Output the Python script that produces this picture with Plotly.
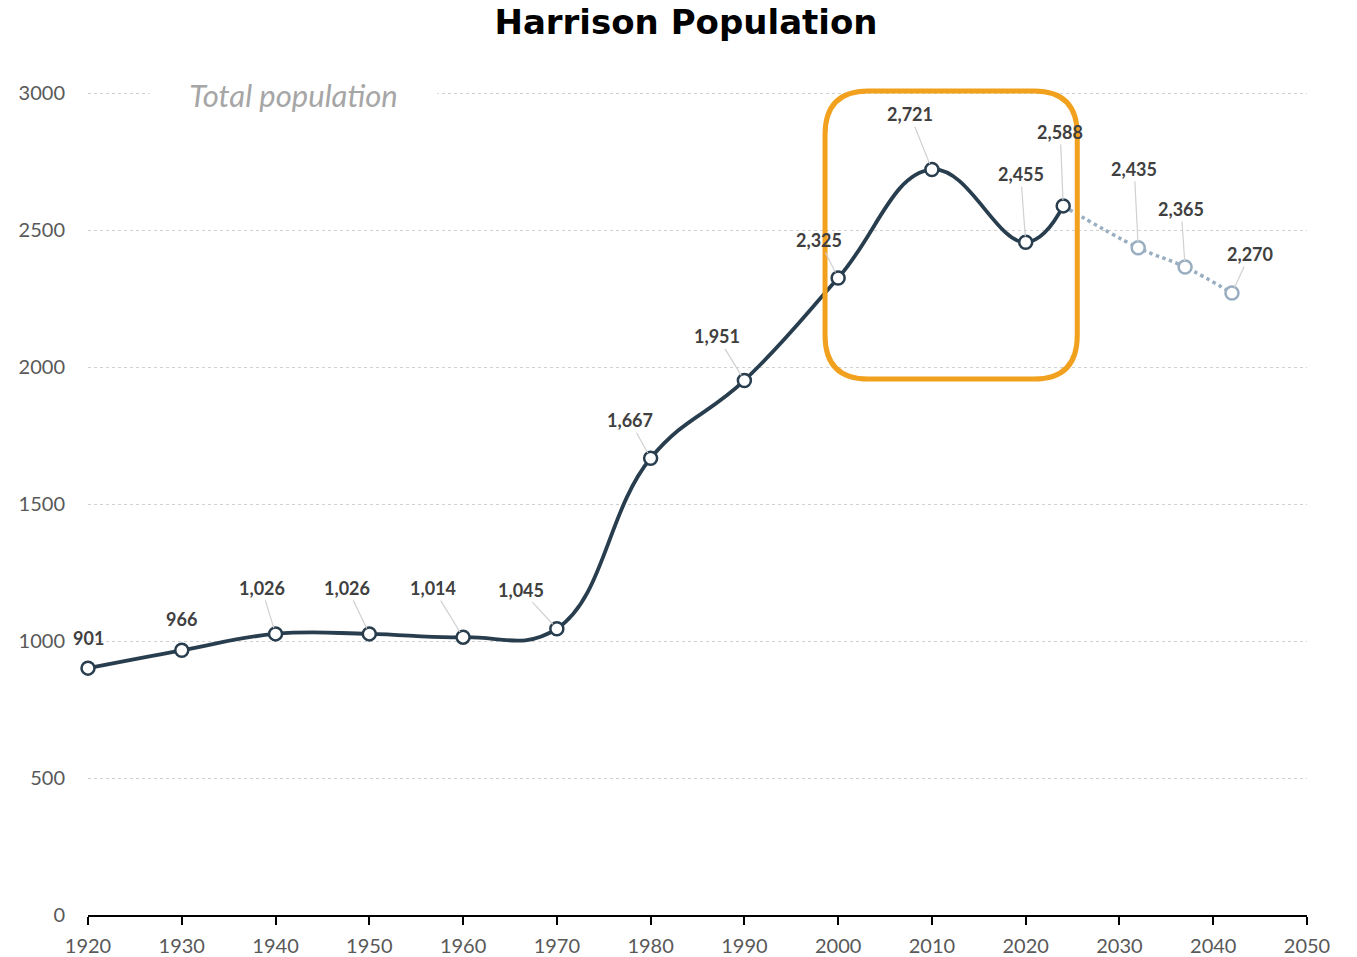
import plotly.graph_objects as go

# ---- data ----
years = [1920, 1930, 1940, 1950, 1960, 1970, 1980, 1990, 2000, 2010, 2020, 2024]
population = [901, 966, 1026, 1026, 1014, 1045, 1667, 1951, 2325, 2721, 2455, 2588]
proj_years = [2024, 2032, 2037, 2042]
proj_population = [2588, 2435, 2365, 2270]
y_ticks = [0, 500, 1000, 1500, 2000, 2500, 3000]
x_ticks = list(range(1920, 2051, 10))

# label offsets (pixels) for each data label
main_offsets = [(0, -30), (0, -31), (-14, -46), (-22, -46), (-30, -49), (-36, -39),
                (-21, -38), (-27, -44), (-19, -38), (-22, -55), (-5, -68), (-3, -74)]
proj_offsets = [(-4, -79), (-4, -58), (18, -39)]
no_leader = {0, 1}

MAIN = "#283D4D"
PROJ = "#9AAEC1"
LABEL = "#404040"

W, H = 1357, 957
L, R, T, B = 88, 50, 88, 42
# 3000 sits at pixel 93; extend range a bit above so the highlight box isn't clipped
Y_TOP = 3000 * (915 - T) / (915 - 93)

fig = go.Figure()

fig.add_trace(go.Scatter(
    x=proj_years, y=proj_population, mode="lines",
    line=dict(color=PROJ, width=3.5, dash="dot", shape="spline", smoothing=1.0),
    cliponaxis=False, hoverinfo="skip", showlegend=False))
fig.add_trace(go.Scatter(
    x=proj_years[1:], y=proj_population[1:], mode="markers",
    marker=dict(symbol="circle", size=13, color="white", line=dict(color=PROJ, width=2.5)),
    cliponaxis=False, showlegend=False))
fig.add_trace(go.Scatter(
    x=years, y=population, mode="lines+markers",
    line=dict(color=MAIN, width=3.8, shape="spline", smoothing=1.2),
    marker=dict(symbol="circle", size=13, color="white", line=dict(color=MAIN, width=2.5)),
    cliponaxis=False, name="Total population", showlegend=False))

annotations = []
lab_font = dict(family="Lato", size=18, color=LABEL)
for i, (x, y) in enumerate(zip(years, population)):
    dx, dy = main_offsets[i]
    if i in no_leader:
        annotations.append(dict(x=x, y=y, xref="x", yref="y", text=f"<b>{y:,}</b>",
                                showarrow=False, xshift=dx, yshift=-dy, font=lab_font))
    else:
        annotations.append(dict(x=x, y=y, xref="x", yref="y", text=f"<b>{y:,}</b>",
                                showarrow=True, ax=dx, ay=dy, arrowhead=0, arrowwidth=1.2,
                                arrowcolor="#D0D0D0", standoff=6, font=lab_font))
for i, (x, y) in enumerate(zip(proj_years[1:], proj_population[1:])):
    dx, dy = proj_offsets[i]
    annotations.append(dict(x=x, y=y, xref="x", yref="y", text=f"<b>{y:,}</b>",
                            showarrow=True, ax=dx, ay=dy, arrowhead=0, arrowwidth=1.2,
                            arrowcolor="#D0D0D0", standoff=6, font=lab_font))

# legend-like label sitting on the top gridline
plot_w = W - L - R
plot_h = H - T - B
annotations.append(dict(
    xref="paper", yref="paper",
    x=(293 - 88) / plot_w, y=1 - (95 - T) / plot_h,
    xanchor="center", yanchor="middle",
    text="<i>Total population</i>", showarrow=False, bgcolor="white", width=285,
    align="center", font=dict(family="Lato", size=31, color="#A6A6A6")))

# highlight box
x0, x1, y0, y1 = 1998.6, 2025.5, 1956, 3007
rx, ry = 4.6, 160
path = (f"M {x0+rx},{y1} L {x1-rx},{y1} Q {x1},{y1} {x1},{y1-ry} "
        f"L {x1},{y0+ry} Q {x1},{y0} {x1-rx},{y0} L {x0+rx},{y0} "
        f"Q {x0},{y0} {x0},{y0+ry} L {x0},{y1-ry} Q {x0},{y1} {x0+rx},{y1} Z")

fig.update_layout(
    width=W, height=H,
    margin=dict(l=L, r=R, t=T, b=B, autoexpand=False),
    paper_bgcolor="white", plot_bgcolor="white",
    title=dict(text="<b>Harrison Population</b>", x=686 / W, xanchor="center",
               y=1 - 22 / H, yanchor="middle", yref="container",
               font=dict(family="DejaVu Sans", size=34, color="black")),
    annotations=annotations,
    shapes=[dict(type="path", path=path, xref="x", yref="y",
                 line=dict(color="#F2A11F", width=5), layer="above")],
    showlegend=False,
    xaxis=dict(range=[1920, 2050], tickvals=x_ticks, ticktext=[str(t) for t in x_ticks],
               showgrid=False, zeroline=False, showline=True, linecolor="black", linewidth=2,
               ticks="outside", ticklen=8, tickwidth=2, tickcolor="black",
               tickfont=dict(family="Lato", size=20, color="#595959"), ticklabelstandoff=4,
               automargin=False, fixedrange=True),
    yaxis=dict(range=[0, Y_TOP], tickvals=y_ticks, ticktext=[str(t) for t in y_ticks],
               showgrid=True, gridcolor="#D0D0D0", gridwidth=1, griddash="dot",
               zeroline=False, showline=False, ticks="",
               tickfont=dict(family="Lato", size=20, color="#595959"), ticklabelstandoff=22,
               automargin=False, fixedrange=True),
)

fig.write_html("out.html", config={"displayModeBar": False},
               post_script="document.body.style.margin='0px';")
